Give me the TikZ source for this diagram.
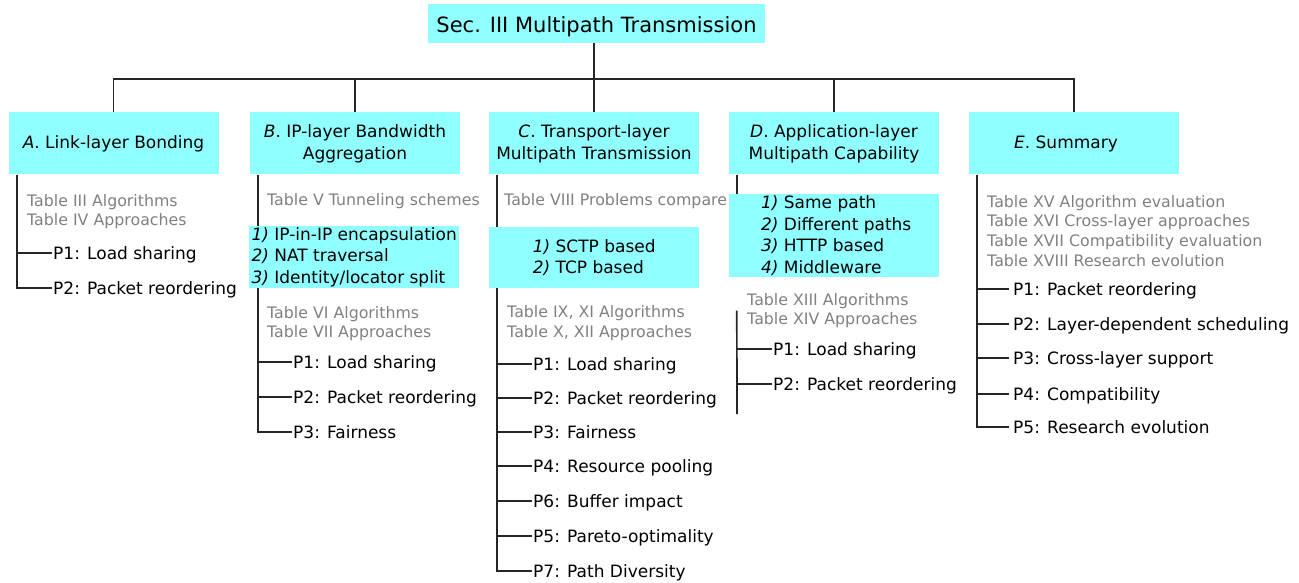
\documentclass[tikz,border=0pt]{standalone}
\usepackage{fontspec}
\setmainfont{DejaVu Sans}
\usepackage{tikz}
\usepackage{xcolor}
\usetikzlibrary{calc}

\definecolor{boxcyan}{RGB}{143,255,255}
\definecolor{tabgray}{RGB}{128,128,128}

\begin{document}
\begin{tikzpicture}[x=1pt,y=-1pt,
    treeline/.style={line width=1.7pt,black!85},
    topbox/.style={fill=boxcyan,minimum width=337pt,minimum height=39pt,inner sep=0pt,
        text height=19pt,text depth=0pt,font=\fontsize{21}{25}\selectfont},
    headbox/.style={fill=boxcyan,minimum width=210pt,minimum height=62pt,inner sep=0pt,
        align=center,font=\fontsize{17}{22}\selectfont},
    listbox/.style={fill=boxcyan,minimum width=210pt,inner sep=0pt,anchor=north west,
        align=left,font=\fontsize{17}{21.5}\selectfont},
    tabtext/.style={anchor=west,inner sep=0pt,align=left,text=tabgray,
        font=\fontsize{15.8}{19.8}\selectfont},
    itemtext/.style={anchor=west,inner xsep=1pt,inner ysep=0pt,text height=12.4pt,
        text depth=0pt,font=\fontsize{17}{21.5}\selectfont}]

        \useasboundingbox (0,0) rectangle (1299,583);

        % the root and the five subsections
        \node[topbox] (sec) at (596.5,23.5) {Sec. III Multipath Transmission};

        \node[headbox] (secA) at (113.5,143.5) {\textit{A}. Link-layer Bonding};
        \node[headbox] (secB) at (355,143.5) {\textit{B}. IP-layer Bandwidth\\Aggregation};
        \node[headbox] (secC) at (594,143.5) {\textit{C}. Transport-layer\\Multipath Transmission};
        \node[headbox] (secD) at (834,143.5) {\textit{D}. Application-layer\\Multipath Capability};
        \node[headbox] (secE) at (1074,143.5) {\textit{E}. Summary\hspace*{16pt}};

        % the bus between root and subsections
        \coordinate (bus) at (0,79);
        \draw[treeline] (secA.north) |- (secE.north |- bus) -- (secE.north);
        \foreach \s in {B,D}
                \draw[treeline] (sec\s.north) -- (sec\s.north |- bus);
        \draw[treeline] (sec.south -| secC.north) -- (secC.north);

        % A. link layer
        \node[tabtext] (tabA) at (27,211.6) {Table III Algorithms\\Table IV Approaches};
        \node[itemtext] (a1) at (52,253) {P1: Load sharing};
        \node[itemtext] (a2) at (52,288) {P2: Packet reordering};
        \coordinate (trA) at ($(secA.south west)+(9,0)$);
        \draw[treeline] (trA) |- (a2.west);
        \draw[treeline] (trA |- a1) -- (a1.west);

        % B. IP layer
        \node[tabtext] (tabB) at (267,201.6) {Table V Tunneling schemes};
        \node[listbox,minimum height=62pt] (lstB) at (249,226)
                {\textit{1)} IP-in-IP encapsulation\\\textit{2)} NAT traversal\\\textit{3)} Identity/locator split};
        \node[tabtext] (tabB2) at (267,323.6) {Table VI Algorithms\\Table VII Approaches};
        \foreach \i/\y/\t in {1/362/{P1: Load sharing},
                              2/397/{P2: Packet reordering},
                              3/432/{P3: Fairness}}
                \node[itemtext] (b\i) at (292,\y) {\t};
        \coordinate (trB) at ($(secB.south west)+(8,0)$);
        \draw[treeline] (trB) -- (trB |- lstB.north);
        \draw[treeline] (trB |- lstB.south) |- (b3.west);
        \foreach \i in {1,2}
                \draw[treeline] (trB |- b\i) -- (b\i.west);

        % C. transport layer
        \node[tabtext] (tabC) at (504,201.6) {Table VIII Problems compare};
        \node[listbox,minimum height=61pt] (lstC) at (489,227)
                {\textit{1)} SCTP based\\\textit{2)} TCP based};
        \node[tabtext] (tabC2) at (507,323) {Table IX, XI Algorithms\\Table X, XII Approaches};
        \foreach \i/\y/\t in {1/364/{P1: Load sharing},
                              2/398/{P2: Packet reordering},
                              3/432/{P3: Fairness},
                              4/466/{P4: Resource pooling},
                              5/501/{P6: Buffer impact},
                              6/536/{P5: Pareto-optimality},
                              7/571/{P7: Path Diversity}}
                \node[itemtext] (c\i) at (532,\y) {\t};
        \coordinate (trC) at ($(secC.south west)+(8,0)$);
        \draw[treeline] (trC) -- (trC |- lstC.north);
        \draw[treeline] (trC |- lstC.south) |- (c7.west);
        \foreach \i in {1,...,6}
                \draw[treeline] (trC |- c\i) -- (c\i.west);

        % D. application layer
        \node[listbox,minimum height=83pt] (lstD) at (729,194)
                {\hspace*{4pt}\textit{1)} Same path\\\hspace*{4pt}\textit{2)} Different paths\\\hspace*{4pt}\textit{3)} HTTP based\\\hspace*{4pt}\textit{4)} Middleware};
        \node[tabtext] (tabD) at (747,310.6) {Table XIII Algorithms\\Table XIV Approaches};
        \node[itemtext] (d1) at (772,349) {P1: Load sharing};
        \node[itemtext] (d2) at (772,384) {P2: Packet reordering};
        \coordinate (trD) at ($(secD.south west)+(8,0)$);
        \coordinate (endD) at (737,414);
        \draw[treeline] (trD) -- (trD |- lstD.north);
        \draw[treeline] (trD |- tabD) -- (endD);
        \foreach \i in {1,2}
                \draw[treeline] (trD |- d\i) -- (d\i.west);

        % E. summary
        \node[tabtext] (tabE) at (987,231)
                {Table XV Algorithm evaluation\\Table XVI Cross-layer approaches\\Table XVII Compatibility evaluation\\Table XVIII Research evolution};
        \foreach \i/\y/\t in {1/289/{P1: Packet reordering},
                              2/324/{P2: Layer-dependent scheduling},
                              3/358/{P3: Cross-layer support},
                              4/394/{P4: Compatibility},
                              5/427/{P5: Research evolution}}
                \node[itemtext,inner xsep=4pt] (e\i) at (1009,\y) {\t};
        \coordinate (trE) at ($(secE.south west)+(8,0)$);
        \draw[treeline] (trE) |- (e5.west);
        \foreach \i in {1,...,4}
                \draw[treeline] (trE |- e\i) -- (e\i.west);
\end{tikzpicture}
\end{document}
